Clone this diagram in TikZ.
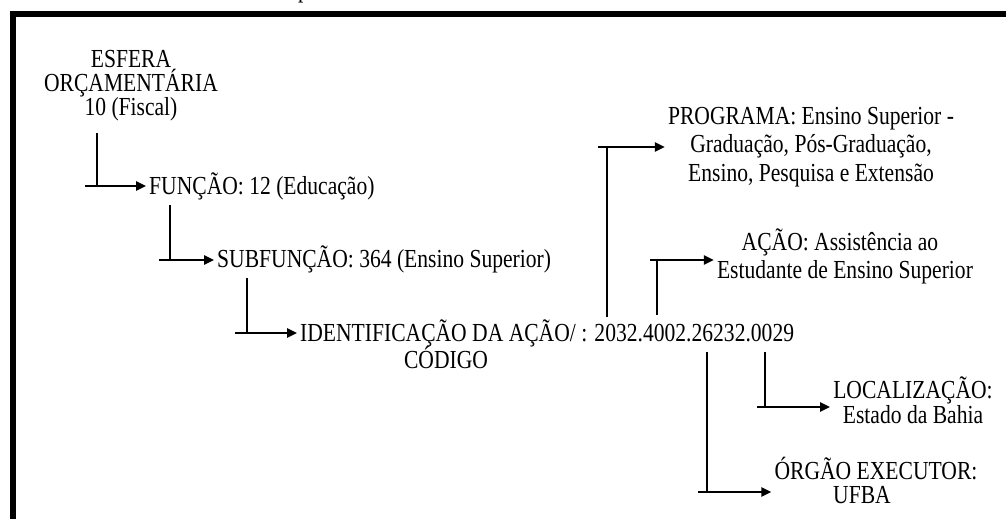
\documentclass[tikz,border=0pt]{standalone}
\usepackage{fontspec}
\setmainfont[FakeStretch=0.83]{Liberation Serif}
\usetikzlibrary{arrows.meta}
\begin{document}
\begin{tikzpicture}[x=1pt,y=-1pt,
  txt/.style={inner sep=0pt,font=\fontsize{26}{26}\selectfont},
  wire/.style={line width=2.2pt},
  arr/.style={line width=2.4pt,-{Triangle[length=10pt,width=9pt]},shorten >=3pt}]
\useasboundingbox (0,0) rectangle (1006,519);
\clip (0,0) rectangle (1006,519);
% frame
\draw[line width=6pt] (1020,14) -- (13,14) -- (13,540);
\node[txt,anchor=base west] (cap) at (298,-2.7) {p};
% texts
\node[txt,anchor=base] (esf1) at (131,67) {ESFERA};
\node[txt,anchor=base] (esf2) at (131,91) {ORÇAMENTÁRIA};
\node[txt,anchor=base] (esf3) at (131,115) {10 (Fiscal)};
\node[txt,anchor=base west] (funcao) at (149,194) {FUNÇÃO: 12 (Educação)};
\node[txt,anchor=base west] (subf) at (217,267) {SUBFUNÇÃO: 364 (Ensino Superior)};
\node[txt,anchor=base west] (ident) at (300,341) {IDENTIFICAÇÃO DA AÇÃO/ : 2032.4002.26232.0029};
\node[txt,anchor=base] (cod) at (446,368) {CÓDIGO};
\node[txt,anchor=base] (prog1) at (811,124) {PROGRAMA: Ensino Superior -};
\node[txt,anchor=base] (prog2) at (811,152) {Graduação, Pós-Graduação,};
\node[txt,anchor=base] (prog3) at (811,181) {Ensino, Pesquisa e Extensão};
\node[txt,anchor=base] (acao1) at (840,250) {AÇÃO: Assistência ao};
\node[txt,anchor=base] (acao2) at (845,278) {Estudante de Ensino Superior};
\node[txt,anchor=base] (loc1) at (913,398) {LOCALIZAÇÃO:};
\node[txt,anchor=base] (loc2) at (913,423) {Estado da Bahia};
\node[txt,anchor=base] (org1) at (876,479) {ÓRGÃO EXECUTOR:};
\node[txt,anchor=base] (org2) at (862,503) {UFBA};
% connector coordinates
\coordinate (t1) at (97,133);  \coordinate (s1) at (85,186);
\coordinate (t2) at (170,205); \coordinate (s2) at (159,260);
\coordinate (t3) at (247,278); \coordinate (s3) at (235,333);
\coordinate (t4) at (607,317); \coordinate (s4) at (598,147);
\coordinate (t5) at (657,315); \coordinate (s5) at (650,260);
\coordinate (t6) at (765,352); \coordinate (s6) at (757,407);
\coordinate (t7) at (707,352); \coordinate (s7) at (698,492);
% connectors
\draw[wire] (t1) -- (t1 |- s1);
\draw[arr] (s1) -- (s1 -| funcao.west);
\draw[wire] (t2) -- (t2 |- s2);
\draw[arr] (s2) -- (s2 -| subf.west);
\draw[wire] (t3) -- (t3 |- s3);
\draw[arr] (s3) -- (s3 -| ident.west);
\draw[wire] (t4) -- (t4 |- s4);
\draw[arr] (s4) -- (s4 -| prog1.west);
\draw[wire] (t5) -- (t5 |- s5);
\draw[arr] (s5) -- (s5 -| acao2.west);
\draw[wire] (t6) -- (t6 |- s6);
\draw[arr] (s6) -- (s6 -| loc1.west);
\draw[wire] (t7) -- (t7 |- s7);
\draw[arr] (s7) -- (s7 -| org1.west);
\end{tikzpicture}
\end{document}
